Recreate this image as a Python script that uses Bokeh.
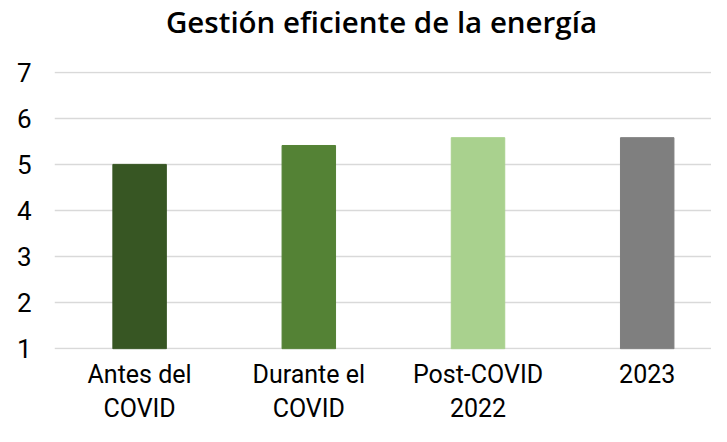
from bokeh.plotting import figure
from bokeh.models import Range1d, FixedTicker, ColumnDataSource, Div
from bokeh.layouts import column
from bokeh.embed import file_html
from bokeh.resources import INLINE

title_text = "Gestión eficiente de la energía"
categories = ["Antes del\nCOVID", "Durante el\nCOVID", "Post-COVID\n2022", "2023"]
values = [5.0, 5.41, 5.58, 5.58]
colors = ["#375623", "#548235", "#A9D18E", "#7F7F7F"]
y_ticks = [1, 2, 3, 4, 5, 6, 7]

xs = list(range(len(categories)))
src = ColumnDataSource(dict(x=xs, top=values, color=colors))

title = Div(text=title_text, width=711, height=47, margin=(0, 0, 0, 0),
            styles={"font-family": "'Open Sans', sans-serif", "font-weight": "600",
                    "font-size": "29.5px", "line-height": "44px", "color": "#000000",
                    "text-align": "center", "text-indent": "52px"})

p = figure(width=711, height=379, output_backend="svg", toolbar_location=None,
           x_range=Range1d(-0.503, 3.38), y_range=Range1d(0.985, 7.015),
           min_border_left=54, min_border_right=0, min_border_top=24,
           min_border_bottom=0, margin=(0, 0, 0, 0))
p.vbar(x="x", top="top", bottom=1, width=0.316, color="color", source=src)

p.outline_line_color = None
p.background_fill_color = "white"
p.border_fill_color = "white"

p.xgrid.grid_line_color = None
p.ygrid.grid_line_color = "#d9d9d9"
p.ygrid.grid_line_width = 1.5
p.ygrid.ticker = FixedTicker(ticks=y_ticks)

p.yaxis.ticker = FixedTicker(ticks=y_ticks)
p.yaxis.axis_line_color = None
p.yaxis.major_tick_line_color = None
p.yaxis.minor_tick_line_color = None
p.yaxis.major_label_text_font = "Roboto"
p.yaxis.major_label_text_font_size = "26px"
p.yaxis.major_label_text_color = "#000000"
p.yaxis.major_label_standoff = 17

p.xaxis.ticker = FixedTicker(ticks=xs)
p.xaxis.major_label_overrides = {i: c for i, c in zip(xs, categories)}
p.xaxis.axis_line_color = None
p.xaxis.major_tick_line_color = None
p.xaxis.minor_tick_line_color = None
p.xaxis.major_label_text_font = "Roboto"
p.xaxis.major_label_text_font_size = "25px"
p.xaxis.major_label_text_color = "#000000"
p.xaxis.major_label_standoff = 4

layout = column(title, p, spacing=0)
open("out.html", "w").write(file_html(layout, INLINE))
